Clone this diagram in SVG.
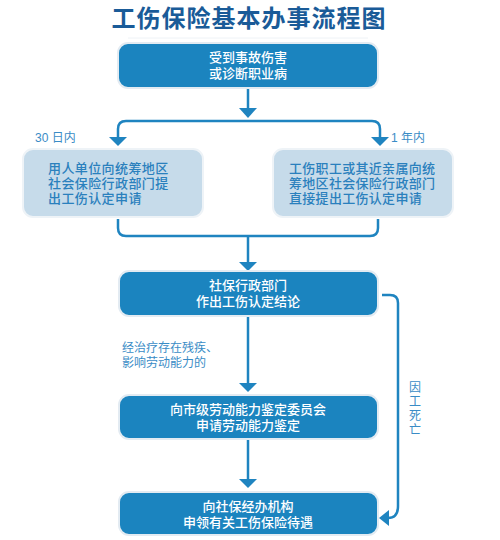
<svg xmlns="http://www.w3.org/2000/svg" width="500" height="540" viewBox="0 0 500 540">
<style>
.t{font-family:"Liberation Sans","Noto Sans CJK SC",sans-serif}
.dark{fill:#1b84bf;stroke:#e3ebf2;stroke-width:2}
.light{fill:#c6dbea;stroke:#eef3f7;stroke-width:2}
.wt{fill:#ffffff;font-size:13px;text-anchor:middle;font-weight:500}
.lt{fill:#2a80bd;font-size:13px;font-weight:500}
.lbl{fill:#3a8cc6;font-size:12px}
.ln{fill:none;stroke:#1f84c0;stroke-width:2.5}
.ah{fill:#1f84c0}
</style>
<rect width="500" height="540" fill="#ffffff"/>
<text class="t" x="249" y="27" text-anchor="middle" font-size="24" font-weight="bold" fill="#1a5b98" letter-spacing="1">工伤保险基本办事流程图</text>
<line x1="128" y1="38" x2="368" y2="38" stroke="#eef2f6" stroke-width="1"/>

<g id="connectors">
<path class="ln" d="M248,89 V109"/>
<polygon class="ah" points="239,108 257,108 248,118"/>
<path class="ln" d="M118,138 V129 Q118,121 126,121 H372 Q380,121 380,129 V138"/>
<polygon class="ah" points="109,137 127,137 118,146"/>
<polygon class="ah" points="371,137 389,137 380,146"/>
<path class="ln" d="M118,219 V228 Q118,236 126,236 H370 Q378,236 378,228 V219"/>
<path class="ln" d="M248,236 V263"/>
<polygon class="ah" points="239,262 257,262 248,271"/>
<path class="ln" d="M248,317 V384"/>
<polygon class="ah" points="239,383 257,383 248,392"/>
<path class="ln" d="M248,440 V480"/>
<polygon class="ah" points="239,479 257,479 248,488"/>
<path class="ln" d="M382,295 H390 Q398,295 398,303 V506 Q398,518 388,518"/>
<polygon class="ah" points="389,510 389,526 379,518"/>
</g>

<g id="label-30">
<text class="t lbl" x="35" y="142">30 日内</text>
</g>
<g id="label-1y">
<text class="t lbl" x="391" y="142">1 年内</text>
</g>
<g id="label-disability">
<text class="t lbl" x="122" y="352">经治疗存在残疾、<tspan x="122" dy="15">影响劳动能力的</tspan></text>
</g>
<g id="label-death">
<text class="t lbl" x="415" y="392" text-anchor="middle">因<tspan x="415" dy="14">工</tspan><tspan x="415" dy="14">死</tspan><tspan x="415" dy="14">亡</tspan></text>
</g>

<g id="n1">
<rect class="dark" x="118" y="43" width="260" height="45" rx="10"/>
<text class="t wt" x="248" y="62">受到事故伤害<tspan x="248" dy="16">或诊断职业病</tspan></text>
</g>
<g id="n2">
<rect class="light" x="23" y="149" width="180" height="68" rx="10"/>
<text class="t lt" x="48" y="173" letter-spacing="0.4">用人单位向统筹地区<tspan x="48" dy="15">社会保险行政部门提</tspan><tspan x="48" dy="15">出工伤认定申请</tspan></text>
</g>
<g id="n3">
<rect class="light" x="273" y="149" width="180" height="68" rx="10"/>
<text class="t lt" x="289" y="173" letter-spacing="0.3">工伤职工或其近亲属向统<tspan x="289" dy="15">筹地区社会保险行政部门</tspan><tspan x="289" dy="15">直接提出工伤认定申请</tspan></text>
</g>
<g id="n4">
<rect class="dark" x="119" y="271" width="259" height="45" rx="10"/>
<text class="t wt" x="248" y="290">社保行政部门<tspan x="248" dy="16">作出工伤认定结论</tspan></text>
</g>
<g id="n5">
<rect class="dark" x="119" y="395" width="259" height="44" rx="10"/>
<text class="t wt" x="248" y="414">向市级劳动能力鉴定委员会<tspan x="248" dy="16">申请劳动能力鉴定</tspan></text>
</g>
<g id="n6">
<rect class="dark" x="119" y="492" width="259" height="43" rx="10"/>
<text class="t wt" x="248" y="511">向社保经办机构<tspan x="248" dy="16">申领有关工伤保险待遇</tspan></text>
</g>
</svg>
